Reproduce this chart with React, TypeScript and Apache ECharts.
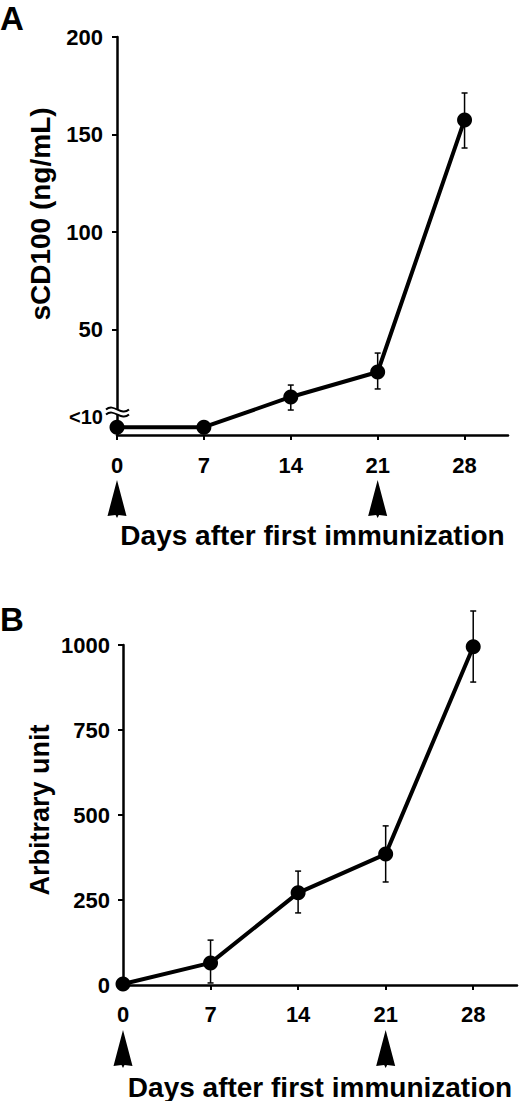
import { useEffect, useRef } from 'react'
import * as echarts from 'echarts'

const days = [0, 7, 14, 21, 28]
const boostDays = [0, 21]

// panel A: sCD100 (ng/mL), the first two points sit on the "<10" floor
const scdMean = [0, 0, 15.5, 28.3, 157.5]
const scdLow = [null, null, 8.8, 19.6, 143.1]
const scdHigh = [null, null, 21.6, 38, 171.3]
const scdTicks = [50, 100, 150, 200]
const scdFloorValue = 5
const scdFloorLabel = '<10'

// panel B: arbitrary unit
const arbMean = [3, 65, 271, 385, 995]
const arbLow = [null, 6, 212, 303, 891]
const arbHigh = [null, 132, 335, 468, 1100]

const FONT = 'Liberation Sans, Arial, Helvetica, sans-serif'
const xTitle = 'Days after first immunization'

const labelStyle = { color: '#000', fontFamily: FONT, fontWeight: 'bold' as const, fontSize: 22 }
const axisLine = { show: true, onZero: false, lineStyle: { color: '#000', width: 2.5 } }

function errorSeries(idx: number, low: (number | null)[], high: (number | null)[]) {
  return {
    type: 'custom',
    xAxisIndex: idx,
    yAxisIndex: idx,
    clip: false,
    z: 3,
    data: days.map((d, i) => [d, low[i], high[i]]).filter(r => r[1] != null),
    encode: { x: 0, y: [1, 2] },
    renderItem: (_params: any, api: any) => {
      const lo = api.coord([api.value(0), api.value(1)])
      const hi = api.coord([api.value(0), api.value(2)])
      const w = 3
      const style = { stroke: '#000', lineWidth: 1.5 }
      return {
        type: 'group',
        children: [
          { type: 'line', shape: { x1: hi[0], y1: hi[1], x2: lo[0], y2: lo[1] }, style },
          { type: 'line', shape: { x1: hi[0] - w, y1: hi[1], x2: hi[0] + w, y2: hi[1] }, style },
          { type: 'line', shape: { x1: lo[0] - w, y1: lo[1], x2: lo[0] + w, y2: lo[1] }, style },
        ],
      }
    },
  }
}

function lineSeries(idx: number, mean: number[]) {
  return {
    type: 'line',
    xAxisIndex: idx,
    yAxisIndex: idx,
    data: days.map((d, i) => [d, mean[i]]),
    symbol: 'circle',
    symbolSize: 15,
    clip: false,
    z: 4,
    itemStyle: { color: '#000' },
    lineStyle: { color: '#000', width: 4 },
  }
}

function xAxis(idx: number, gap: number, margin: number) {
  return {
    type: 'value',
    gridIndex: idx,
    min: 0,
    max: 31.5,
    name: xTitle,
    nameLocation: 'middle',
    nameGap: gap,
    nameTextStyle: { color: '#000', fontFamily: FONT, fontWeight: 'bold', fontSize: 28 },
    axisLine,
    axisTick: { show: true, customValues: days, length: 5, lineStyle: { color: '#000', width: 2 } },
    axisLabel: { ...labelStyle, customValues: days, margin },
    splitLine: { show: false },
  }
}

// up-pointing arrowhead used to mark the immunization days
const arrowPts = [[0, 0], [9.5, 36], [1.5, 35], [0, 38], [-1.5, 35], [-9.5, 36]]

export default function App() {
  const chartRef = useRef<HTMLDivElement>(null)

  useEffect(() => {
    if (!chartRef.current) return
    const chart = echarts.init(chartRef.current, null, { renderer: 'svg' })

    const option: any = {
      animation: false,
      backgroundColor: '#fff',
      grid: [
        { left: 117, right: 12, top: 37, bottom: 666, outerBoundsMode: 'none' },
        { left: 123, right: 3, top: 645, bottom: 116, outerBoundsMode: 'none' },
      ],
      xAxis: [xAxis(0, 86, 19), xAxis(1, 88, 18)],
      yAxis: [
        {
          type: 'value',
          gridIndex: 0,
          min: -4,
          max: 200,
          axisLine,
          axisTick: { show: true, customValues: scdTicks, length: 5, lineStyle: { color: '#000', width: 2 } },
          axisLabel: {
            ...labelStyle,
            margin: 14,
            customValues: [scdFloorValue, ...scdTicks],
            formatter: (v: number) => (v === scdFloorValue ? '{s|' + scdFloorLabel + '}' : String(v)),
            rich: { s: { color: '#000', fontFamily: FONT, fontWeight: 'bold', fontSize: 20 } },
          },
          splitLine: { show: false },
        },
        {
          type: 'value',
          gridIndex: 1,
          min: 0,
          max: 1000,
          interval: 250,
          axisLine,
          axisTick: { show: true, length: 5, lineStyle: { color: '#000', width: 2 } },
          axisLabel: { ...labelStyle, margin: 13, formatter: (v: number) => String(v) },
          splitLine: { show: false },
        },
      ],
      series: [
        lineSeries(0, scdMean),
        errorSeries(0, scdLow, scdHigh),
        lineSeries(1, arbMean),
        errorSeries(1, arbLow, arbHigh),
      ],
    }
    chart.setOption(option)

    const graphics: any[] = [
      { type: 'text', x: 0, y: 2, z: 100, style: { text: 'A', fill: '#000', fontFamily: FONT, fontWeight: 'bold', fontSize: 33, verticalAlign: 'top' } },
      { type: 'text', x: 0, y: 603, z: 100, style: { text: 'B', fill: '#000', fontFamily: FONT, fontWeight: 'bold', fontSize: 33, verticalAlign: 'top' } },
      {
        type: 'text', x: 40, y: 214, rotation: Math.PI / 2, z: 100,
        style: { text: 'sCD100 (ng/mL)', fill: '#000', fontFamily: FONT, fontWeight: 'bold', fontSize: 28, align: 'center', verticalAlign: 'middle' },
      },
      {
        type: 'text', x: 40, y: 810, rotation: Math.PI / 2, z: 100,
        style: { text: 'Arbitrary unit', fill: '#000', fontFamily: FONT, fontWeight: 'bold', fontSize: 27, align: 'center', verticalAlign: 'middle' },
      },
    ]

    // arrows under the immunization days
    ;[0, 1].forEach(gi => {
      const axisY = chart.convertToPixel({ gridIndex: gi } as any, [0, gi === 0 ? -4 : 0])[1]
      boostDays.forEach(d => {
        const px = chart.convertToPixel({ gridIndex: gi } as any, [d, 0])[0]
        graphics.push({
          type: 'polygon', z: 100, x: px, y: axisY + 45,
          shape: { points: arrowPts },
          style: { fill: '#000' },
        })
      })
    })

    // axis break mark on panel A
    const [bx, by] = chart.convertToPixel({ gridIndex: 0 } as any, [0, 8])
    graphics.push({ type: 'rect', z: 99, shape: { x: bx - 3, y: by - 2, width: 6, height: 5 }, style: { fill: '#fff' } })
    ;[-2, 3].forEach(dy => {
      graphics.push({
        type: 'bezierCurve', z: 100,
        shape: { x1: bx - 11, y1: by + dy, x2: bx + 12, y2: by + dy, cpx1: bx - 3, cpy1: by + dy - 7, cpx2: bx + 4, cpy2: by + dy + 7 },
        style: { stroke: '#000', lineWidth: 2, fill: 'none' },
      })
    })

    chart.setOption({ graphic: graphics })

    return () => {
      chart.dispose()
    }
  }, [])

  return (
    <div
      ref={chartRef}
      style={{ position: 'fixed', left: 0, top: 0, width: 520, height: 1101, background: '#fff' }}
    />
  )
}
